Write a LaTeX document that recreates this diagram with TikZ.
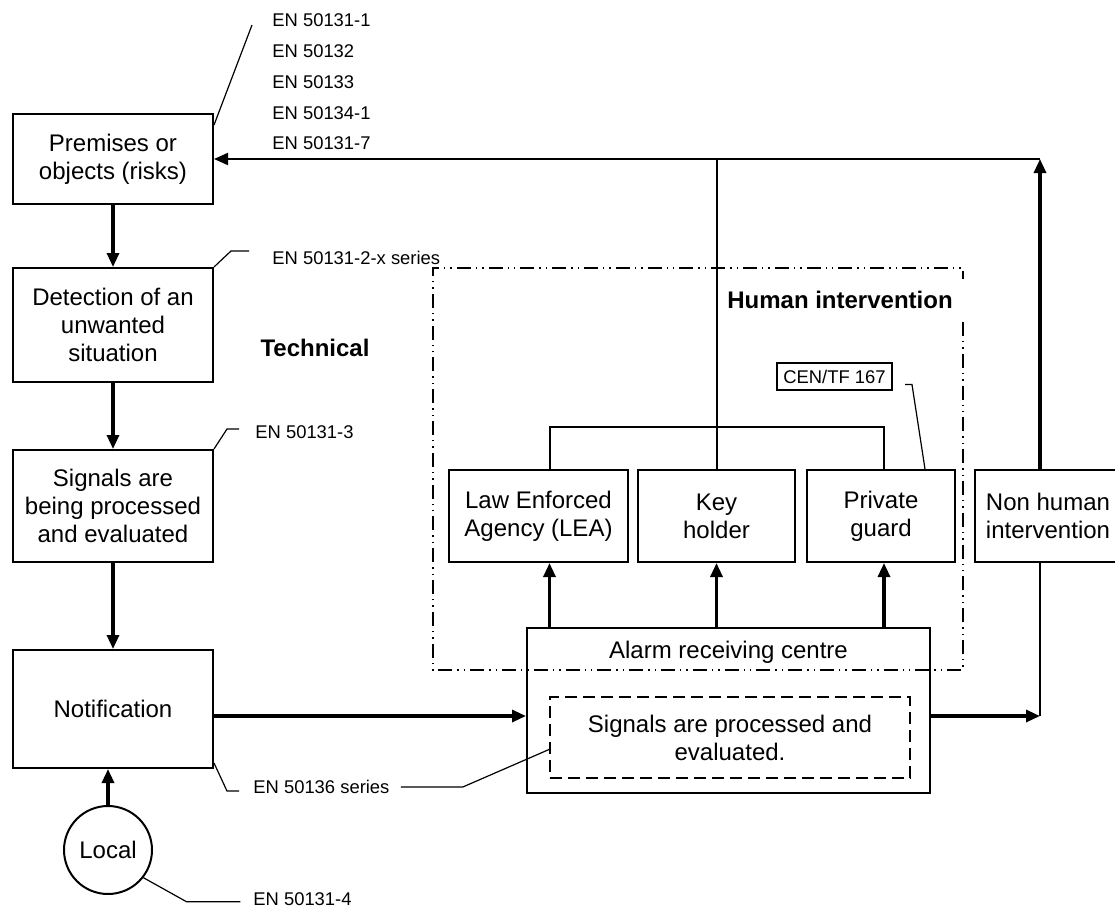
\documentclass[tikz,border=0pt]{standalone}
\usepackage{fontspec}
\setmainfont{Liberation Sans}
\usetikzlibrary{arrows.meta}

\begin{document}
\begin{tikzpicture}[x=0.5pt, y=-0.5pt, >={Triangle[length=7pt, width=6pt]},
    box/.style={draw, line width=1pt, align=center, inner sep=2pt, font=\fontsize{12pt}{14pt}\selectfont},
    txt/.style={align=center, inner sep=0pt, font=\fontsize{12pt}{14pt}\selectfont},
    norm/.style={anchor=west, inner sep=0pt, font=\fontsize{9.2pt}{11pt}\selectfont},
    title/.style={inner sep=0pt, font=\fontsize{12pt}{14pt}\selectfont\bfseries},
    flow/.style={->, line width=1.6pt},
    link/.style={line width=1pt},
    leader/.style={line width=0.6pt},
    frame/.style={line width=0.9pt, dash pattern=on 7pt off 2.5pt on 0.7pt off 2.5pt on 0.7pt off 2.5pt}]
    \useasboundingbox (0,0) rectangle (1115,911);

    % Chuỗi khối kỹ thuật bên trái
    \node[box, minimum width=100pt, minimum height=45pt] (prem) at (113,159) {Premises or\\objects (risks)};
    \node[box, minimum width=100pt, minimum height=57pt] (detect) at (113,325) {Detection of an\\unwanted\\situation};
    \node[box, minimum width=100pt, minimum height=56pt] (sigs) at (113,506) {Signals are\\being processed\\and evaluated};
    \node[box, minimum width=100pt, minimum height=59pt] (notif) at (113,709) {Notification};
    \node[box, circle, minimum size=44pt, inner sep=0pt] (local) at (108,850) {Local};

    % Các khối can thiệp
    \node[box, minimum width=89.5pt, minimum height=46pt] (lea) at (538.5,516) {Law Enforced\\Agency (LEA)};
    \node[box, minimum width=78.5pt, minimum height=46pt] (key) at (716.5,516) {Key\\holder};
    \node[box, minimum width=74pt, minimum height=46pt] (guard) at (881,516) {Private\\guard};
    \node[box, minimum width=73pt, minimum height=46pt] (nonhum) at (1048,516) {Non human\\intervention};
    \node[box, inner sep=1pt, minimum width=57.5pt, minimum height=13.5pt, font=\fontsize{9.2pt}{11pt}\selectfont] (cen) at (834.5,376.5) {CEN/TF 167};

    % Trung tâm nhận báo động
    \node[box, minimum width=201.5pt, minimum height=82.5pt] (arc) at (728.5,710.5) {};
    \node[txt] (arclbl) at (728.5,652) {Alarm receiving centre};
    \node[box, dash pattern=on 6pt off 3pt, minimum width=180pt, minimum height=40.5pt] (inner) at (730,737.5) {Signals are processed and\\evaluated.};

    % Tiêu đề
    \node[title] (tech) at (315,348) {Technical};
    \node[title] (human) at (840,300) {Human intervention};

    % Nhãn tiêu chuẩn
    \node[norm] (en1) at (272,20) {EN 50131-1};
    \node[norm] (en2) at (272,51) {EN 50132};
    \node[norm] (en3) at (272,82) {EN 50133};
    \node[norm] (en4) at (272,113) {EN 50134-1};
    \node[norm] (en5) at (272,143) {EN 50131-7};
    \node[norm] (enx) at (272,258) {EN 50131-2-x series};
    \node[norm] (enp) at (255,432) {EN 50131-3};
    \node[norm] (ent) at (253,787) {EN 50136 series};
    \node[norm] (enl) at (253,899) {EN 50131-4};

    % Điểm phụ
    \coordinate (fb) at (1040,159);
    \coordinate (rt) at (1040,716);
    \coordinate (lx) at ([xshift=5.5pt]lea.north);
    \coordinate (gx) at ([xshift=1.5pt]guard.north);

    % Mũi tên chính
    \draw[flow] (prem) -- (detect);
    \draw[flow] (detect) -- (sigs);
    \draw[flow] (sigs) -- (notif);
    \draw[flow] (local) -- (local |- notif.south);
    \draw[flow] (notif.east |- rt) -- (arc.west |- rt);
    \draw[flow] (arc.east |- rt) -- (rt);
    \draw[link] (nonhum.south -| rt) -- (rt);
    \draw[flow] (nonhum.north -| fb) -- (fb);
    \draw[link, ->] (fb) -- (prem.east);
    \draw[link] (key.north) -- (key.north |- fb);

    % Nhánh lên LEA, Key holder, Private guard
    \draw[link] (lx) -- ++(0,-42) -| (gx);
    \draw[flow] (lx |- arc.north) -- (lx |- lea.south);
    \draw[flow] (key.south |- arc.north) -- (key.south);
    \draw[flow] (gx |- arc.north) -- (gx |- guard.south);

    % Khung can thiệp của con người
    \draw[frame] (963,322) -- (963,670) -- (433,670) -- (433,268) -- (963,268) -- (963,279);

    % Đường dẫn nhãn
    \draw[leader] ([yshift=-6pt]prem.north east) -- ([xshift=-10pt, yshift=-2.5pt]en1.west);
    \draw[leader] (detect.north east) -- ++(17,-16) -- ++(18,0);
    \draw[leader] (sigs.north east) -- ++(13,-20) -- ++(12,0);
    \draw[leader] ([yshift=3pt]notif.south east) -- ++(13,28) -- ++(12,0);
    \draw[leader] (ent.east) ++(11,0) -- ++(62,0) -- ([yshift=-6pt]inner.west);
    \draw[leader] (local.-38) -- ++(43,24) -- ++(54,0);
    \draw[leader] (cen.east) ++(12,8) -- ++(7,0) -- ([xshift=22pt]guard.north);
\end{tikzpicture}
\end{document}
